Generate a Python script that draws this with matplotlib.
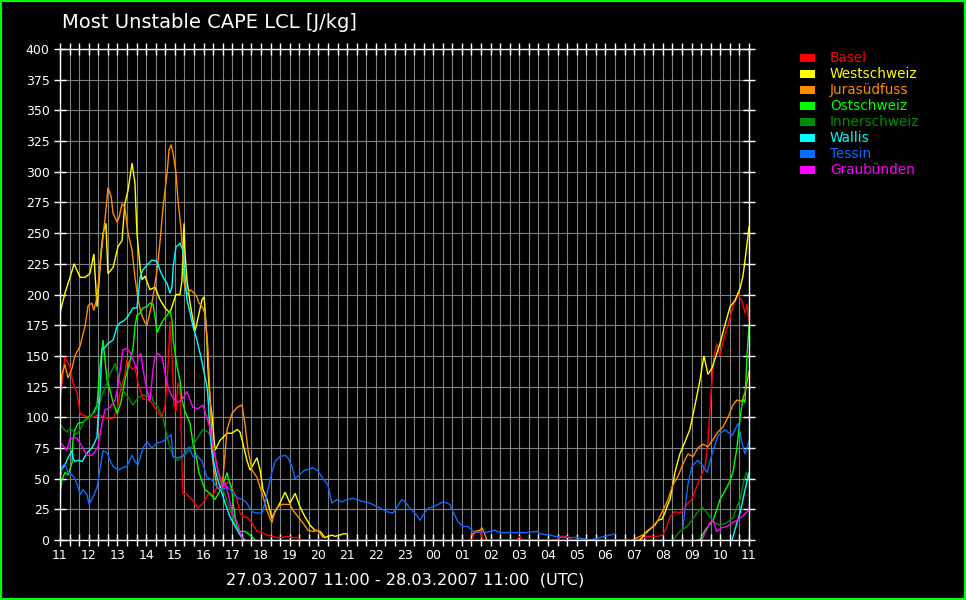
import numpy as np
import matplotlib
matplotlib.use("Agg")
import matplotlib.pyplot as plt
from matplotlib.patches import Rectangle
from matplotlib.ticker import MultipleLocator

nan = float("nan")

# time in hours after 27.03.2007 11:00 UTC ; nan separates gaps
basel_t = [0, 0.07, 0.17, 0.35, 0.45, 0.59, 0.70, 0.98, 1.15, 1.32, 1.67, 1.85, 1.99, 2.09, 2.26, 2.33, 2.51, 2.61, 2.72, 2.79,
           2.89, 3.13, 3.41, 3.55, 3.66, 3.76, 3.83, 3.90, 3.97, 4.04, 4.11, 4.18, 4.25, 4.28, 4.42, 4.60, 4.81, 4.98, 5.15, 5.33,
           5.47, 5.64, 5.82, 5.92, 6.03, 6.17, 6.27, 6.37, 6.55, 6.69, 6.86, 7.04, 7.21, 7.38, 7.56, 7.73, 7.91, 8.08, 8.25, 8.43,
           8.71, 9.06, nan,
           14.35, 14.45, 14.63, 14.73, 15.0, 15.9, 16.02, 16.1, 17.3, 17.42, 17.66, 17.8, 19.96, 20.30, 20.44, 20.65, 20.83, 21.00,
           21.14, 21.25, 21.42, 21.59, 21.70, 21.87, 22.01, 22.12, 22.29, 22.47, 22.57, 22.68, 22.78, 22.88, 22.99, 23.13, 23.27,
           23.44, 23.62, 23.75, 23.86, 23.93, 24.0]
basel_v = [114, 128, 149, 141, 128, 120, 103, 100, 100, 102, 99, 99, 106, 120, 135, 147, 139, 141, 128, 122,
           115, 114, 104, 100, 110, 140, 178, 150, 110, 105, 128, 125, 60, 38, 37, 33, 26, 30, 37, 37,
           43, 41, 47, 46, 41, 33, 22, 19, 18, 14, 7, 6, 4, 3, 2, 2, 3, 2, 2, 0,
           0, 0, nan,
           0, 6, 7, 0, 0, 0, 3, 0, 0, 3, 3, 0, 0, 1, 3, 3, 3, 4,
           11, 19, 23, 22, 24, 30, 33, 40, 50, 60, 80, 120, 150, 160, 150, 165, 175,
           190, 200, 195, 185, 192, 178]

west_t = [0, 0.17, 0.35, 0.49, 0.70, 0.87, 1.04, 1.18, 1.29, 1.36, 1.43, 1.50, 1.60, 1.67, 1.85, 2.02, 2.16, 2.26, 2.37, 2.51,
          2.61, 2.68, 2.79, 2.86, 2.96, 3.13, 3.31, 3.48, 3.66, 3.83, 3.94, 4.04, 4.18, 4.25, 4.32, 4.35, 4.42, 4.53, 4.70, 4.77,
          4.95, 5.02, 5.12, 5.15, 5.22, 5.29, 5.40, 5.57, 5.82, 5.99, 6.17, 6.27, 6.37, 6.51, 6.62, 6.72, 6.86, 6.97, 7.07, 7.21,
          7.38, 7.49, 7.66, 7.84, 8.01, 8.19, 8.36, 8.53, 8.71, 8.88, 9.06, 9.23, 9.47, 9.58, 9.75, 9.86, 10.0, nan,
          20.20, 20.44, 20.72, 20.83, 20.97, 21.07, 21.14, 21.25, 21.42, 21.59, 21.77, 21.94, 22.12, 22.29, 22.43, 22.57,
          22.71, 22.85, 22.99, 23.16, 23.34, 23.51, 23.69, 23.79, 23.90, 24.0]
west_v = [185, 201, 214, 225, 214, 214, 217, 233, 190, 210, 235, 250, 258, 217, 222, 239, 244, 274, 285, 307,
          291, 250, 222, 212, 215, 204, 206, 196, 189, 185, 193, 200, 200, 212, 258, 236, 212, 193, 170, 177,
          196, 198, 163, 141, 114, 103, 73, 81, 87, 87, 90, 88, 79, 65, 57, 61, 67, 57, 41, 33,
          18, 23, 30, 39, 30, 38, 27, 19, 12, 8, 7, 2, 4, 3, 4, 5, 5, nan,
          0, 7, 12, 16, 17, 22, 27, 33, 55, 70, 80, 90, 110, 130, 150, 135,
          140, 150, 160, 175, 190, 195, 205, 215, 235, 255]

jura_t = [0, 0.07, 0.17, 0.28, 0.42, 0.52, 0.63, 0.70, 0.87, 0.98, 1.11, 1.18, 1.29, 1.39, 1.50, 1.60, 1.67, 1.78, 1.85, 1.99,
          2.06, 2.16, 2.26, 2.37, 2.51, 2.61, 2.72, 2.82, 2.96, 3.03, 3.13, 3.24, 3.38, 3.48, 3.59, 3.73, 3.80, 3.87, 3.94, 4.04,
          4.11, 4.21, 4.28, 4.32, 4.42, 4.53, 4.63, 4.77, 4.84, 4.95, 5.05, 5.15, 5.22, 5.33, 5.47, 5.57, 5.68, 5.82, 5.99, 6.17,
          6.34, 6.44, 6.55, 6.69, 6.86, 7.04, 7.21, 7.38, 7.49, 7.59, 7.73, 8.01, 8.12, 8.29, 8.46, 8.64, 8.81, 8.99, 9.16, nan,
          14.35, 14.45, 14.63, 14.70, 14.77, 14.87, nan,
          19.96, 20.44, 20.65, 20.83, 21.00, 21.18, 21.35, 21.53, 21.70, 21.87, 22.05, 22.22, 22.40, 22.57, 22.75, 22.92,
          23.09, 23.27, 23.44, 23.58, 23.75, 23.86, 24.0]
jura_v = [113, 135, 143, 132, 140, 150, 155, 158, 174, 191, 193, 187, 198, 222, 247, 269, 287, 280, 266, 259,
          263, 274, 271, 250, 236, 214, 196, 185, 177, 175, 185, 198, 220, 242, 271, 299, 318, 322, 315, 299,
          277, 255, 234, 210, 200, 204, 202, 198, 193, 190, 185, 157, 120, 63, 43, 41, 51, 90, 103, 108,
          110, 95, 73, 57, 51, 38, 24, 14, 24, 27, 29, 29, 24, 19, 14, 8, 7, 8, 2, nan,
          4, 7, 8, 10, 6, 0, nan,
          0, 6, 11, 16, 24, 33, 45, 52, 62, 70, 68, 75, 78, 76, 82, 88,
          92, 100, 110, 114, 113, 120, 137]

ost_t = [0, 0.07, 0.17, 0.28, 0.42, 0.45, 0.52, 0.63, 0.80, 0.98, 1.15, 1.29, 1.39, 1.50, 1.53, 1.64, 1.74, 1.85, 1.99, 2.12,
         2.26, 2.37, 2.54, 2.61, 2.68, 2.79, 2.89, 3.03, 3.13, 3.24, 3.31, 3.38, 3.48, 3.59, 3.73, 3.83, 3.90, 3.94, 4.08, 4.18,
         4.25, 4.35, 4.53, 4.63, 4.77, 4.84, 5.05, 5.22, 5.40, 5.57, 5.75, 5.82, 5.85, 5.99, 6.03, 6.10, 6.17, 6.27, 6.44, 6.62,
         6.79, nan,
         22.19, 22.29, 22.47, 22.64, 22.75, 22.88, 22.99, 23.16, 23.34, 23.44, 23.58, 23.69, 23.79, 23.86, 23.93, 24.0]
ost_v = [38, 49, 55, 53, 63, 81, 90, 95, 96, 100, 103, 110, 140, 163, 155, 130, 122, 112, 103, 112,
         130, 140, 155, 174, 183, 185, 189, 190, 193, 192, 182, 169, 174, 179, 183, 187, 179, 163, 141, 130,
         114, 105, 95, 79, 65, 55, 41, 38, 33, 40, 50, 55, 51, 41, 30, 19, 10, 7, 7, 4,
         0, nan,
         0, 0, 8, 13, 16, 25, 33, 40, 48, 55, 75, 100, 115, 112, 150, 175]

inner_t = [0, 0.10, 0.24, 0.35, 0.59, 0.70, 0.87, 0.98, 1.22, 1.39, 1.50, 1.64, 1.74, 1.85, 1.92, 2.02, 2.16, 2.26, 2.44, 2.54,
           2.72, 2.89, 3.07, 3.20, 3.24, 3.41, 3.59, 3.73, 3.83, 3.94, 4.11, 4.28, 4.46, 4.63, 4.81, 4.98, 5.15, 5.29, 5.40, 5.50,
           5.68, 5.85, 6.03, 6.20, 6.37, nan,
           21.35, 21.59, 21.84, 22.01, 22.19, 22.36, 22.47, 22.64, 22.81, 22.99, 23.23, 23.44, 23.58, 23.69, 23.79, 23.90, 24.0]
inner_v = [95, 91, 88, 91, 86, 90, 98, 99, 104, 112, 120, 128, 135, 140, 144, 135, 122, 120, 114, 110,
           116, 118, 117, 118, 113, 108, 99, 84, 76, 68, 65, 68, 72, 77, 84, 90, 88, 84, 70, 55,
           41, 30, 18, 7, 0, nan,
           0, 7, 11, 16, 22, 27, 24, 19, 14, 12, 14, 18, 27, 33, 45, 55, 50]

wallis_t = [0, 0.07, 0.17, 0.28, 0.42, 0.45, 0.52, 0.63, 0.77, 0.87, 0.98, 1.11, 1.22, 1.29, 1.32, 1.39, 1.46, 1.57, 1.67, 1.85,
            1.99, 2.09, 2.19, 2.33, 2.44, 2.54, 2.68, 2.79, 2.89, 3.03, 3.20, 3.38, 3.48, 3.59, 3.73, 3.83, 3.90, 3.94, 4.04, 4.11,
            4.18, 4.28, 4.35, 4.42, 4.53, 4.63, 4.77, 4.88, 4.98, 5.12, 5.15, 5.22, 5.29, 5.47, 5.75, 5.92, 6.10, 6.20, 6.34, 6.44,
            nan, 23.41, 23.58, 23.69, 23.79, 23.90, 24.0]
wallis_v = [52, 58, 61, 67, 73, 67, 64, 65, 64, 68, 72, 75, 80, 84, 98, 117, 155, 157, 160, 163,
            174, 177, 178, 181, 185, 189, 189, 214, 220, 224, 228, 227, 220, 214, 209, 201, 206, 222, 239, 240,
            242, 236, 217, 196, 185, 174, 163, 152, 141, 125, 118, 90, 71, 51, 30, 19, 11, 7, 2, 0,
            nan, 0, 14, 22, 33, 45, 55]

tessin_t = [0, 0.07, 0.17, 0.28, 0.42, 0.52, 0.63, 0.70, 0.80, 0.94, 1.01, 1.15, 1.29, 1.39, 1.50, 1.64, 1.74, 1.85, 2.02, 2.19,
            2.33, 2.51, 2.61, 2.72, 2.82, 2.89, 3.03, 3.20, 3.38, 3.55, 3.73, 3.87, 3.94, 4.08, 4.25, 4.35, 4.49, 4.63, 4.77, 4.95,
            5.12, 5.29, 5.47, 5.64, 5.85, 6.03, 6.20, 6.37, 6.51, 6.69, 6.86, 7.04, 7.14, 7.24, 7.38, 7.49, 7.66, 7.84, 7.94, 8.08,
            8.19, 8.29, 8.43, 8.53, 8.71, 8.81, 8.99, 9.16, 9.33, 9.47, 9.65, 9.82, 10.0, 10.21, 10.45, 10.80, 11.15, 11.39, 11.60, 11.91,
            12.02, 12.19, 12.43, 12.54, 12.64, 12.82, 12.99, 13.17, 13.34, 13.48, 13.58, 13.69, 13.86, 14.04, 14.21, 14.39, 14.52, 14.63, 14.80, 14.98,
            15.15, 15.33, 15.67, 16.20, 16.61, 16.72, 17.07, 17.24, 17.49, 17.66, 18.01, 18.22, 18.46, 18.81, 18.98, 19.16, 19.33, nan,
            21.70, 21.81, 21.87, 22.01, 22.22, 22.40, 22.54, 22.71, 22.92, 23.16, 23.41, 23.62, 23.75, 23.86, 24.0]
tessin_v = [49, 60, 62, 55, 53, 50, 43, 37, 41, 37, 29, 35, 43, 57, 73, 71, 65, 60, 57, 59,
            60, 69, 64, 61, 69, 75, 80, 75, 79, 80, 83, 86, 68, 67, 68, 71, 76, 68, 69, 64,
            51, 49, 43, 41, 43, 38, 34, 33, 30, 23, 22, 22, 30, 41, 55, 64, 68, 69, 67, 60,
            50, 52, 55, 57, 58, 59, 56, 50, 45, 30, 33, 31, 33, 34, 32, 30, 26, 23, 22, 33,
            31, 26, 20, 16, 20, 26, 27, 29, 31, 30, 29, 23, 15, 11, 11, 7, 6, 7, 6, 7,
            8, 6, 6, 6, 7, 5, 4, 3, 2, 2, 2, 1, 0, 2, 3, 4, 5, nan,
            10, 33, 45, 60, 65, 60, 55, 70, 85, 90, 85, 95, 80, 70, 80]

graub_t = [0, 0.10, 0.24, 0.35, 0.59, 0.77, 0.94, 1.11, 1.22, 1.32, 1.46, 1.57, 1.74, 1.92, 2.02, 2.19, 2.33, 2.44, 2.54, 2.68,
           2.72, 2.82, 2.89, 3.03, 3.13, 3.24, 3.31, 3.41, 3.55, 3.66, 3.76, 3.90, 4.08, 4.25, 4.42, 4.63, 4.81, 4.98, 5.22, 5.33,
           5.50, 5.68, 5.75, 5.85, 6.03, 6.17, 6.27, 6.37, nan,
           22.36, 22.64, 22.75, 22.88, 23.06, 23.23, 23.41, 23.58, 23.75, 23.93, 24.0]
graub_v = [79, 77, 73, 83, 83, 76, 69, 69, 72, 76, 95, 106, 108, 114, 125, 155, 156, 153, 147, 139,
           149, 152, 139, 122, 113, 139, 149, 152, 149, 136, 125, 117, 112, 114, 121, 108, 107, 110, 92, 76,
           57, 43, 47, 38, 20, 14, 7, 0, nan,
           0, 14, 16, 7, 10, 11, 14, 16, 19, 23, 25]

regions = ["Basel", "Westschweiz", "Jurasüdfuss", "Ostschweiz", "Innerschweiz", "Wallis", "Tessin", "Graubünden"]
colors = ["#ff0000", "#ffff00", "#ff8c00", "#00ff00", "#008c00", "#00ffff", "#0a6cff", "#ff00ff"]
series_t = [basel_t, west_t, jura_t, ost_t, inner_t, wallis_t, tessin_t, graub_t]
series_v = [basel_v, west_v, jura_v, ost_v, inner_v, wallis_v, tessin_v, graub_v]

hour_labels = ["11", "12", "13", "14", "15", "16", "17", "18", "19", "20", "21", "22", "23",
               "00", "01", "02", "03", "04", "05", "06", "07", "08", "09", "10", "11"]

W, H = 966, 600
fig = plt.figure(figsize=(W / 100, H / 100), dpi=100, facecolor="black")
ax = fig.add_axes([60 / W, 1 - 540 / H, 689 / W, 491 / H])
ax.set_facecolor("black")

for t, v, c in zip(series_t, series_v, colors):
    ax.plot(np.array(t, float), np.array(v, float), color=c, lw=1.0, solid_joinstyle="miter")

ax.set_xlim(0, 24)
ax.set_ylim(0, 400)
ax.set_xticks(range(25))
ax.set_xticklabels(hour_labels)
ax.xaxis.set_minor_locator(MultipleLocator(1 / 3))
ax.yaxis.set_major_locator(MultipleLocator(25))
ax.grid(True, which="both", axis="x", color="#808080", lw=0.8)
ax.grid(True, which="major", axis="y", color="#808080", lw=0.8)
ax.set_axisbelow(True)
for s in ax.spines.values():
    s.set_color("white")
    s.set_linewidth(1.0)
ax.tick_params(which="both", direction="inout", color="white", width=1.0,
               top=True, right=True, labelcolor="white", labelsize=9)
ax.tick_params(which="major", length=9)
ax.tick_params(which="minor", length=8)
ax.tick_params(axis="y", pad=3)
ax.tick_params(axis="x", pad=2)

fig.text(62 / W, 1 - 22 / H, "Most Unstable CAPE LCL [J/kg]", color="white", fontsize=14,
         ha="left", va="center")
fig.text(405 / W, 1 - 580 / H, "27.03.2007 11:00 - 28.03.2007 11:00  (UTC)", color="white",
         fontsize=11.6, ha="center", va="center")

for i, (name, c) in enumerate(zip(regions, colors)):
    yc = 58 + 16 * i
    fig.add_artist(Rectangle((800 / W, 1 - (yc + 4) / H), 15 / W, 8 / H,
                             transform=fig.transFigure, facecolor=c, edgecolor="none"))
    fig.text(830 / W, 1 - yc / H, name, color=c, fontsize=9.8, ha="left", va="center")

fig.add_artist(Rectangle((0, 0), 1, 1, transform=fig.transFigure, fill=False,
                         edgecolor="#00ff00", linewidth=3, clip_on=False))

fig.savefig("out.png", dpi=100, facecolor="black")
